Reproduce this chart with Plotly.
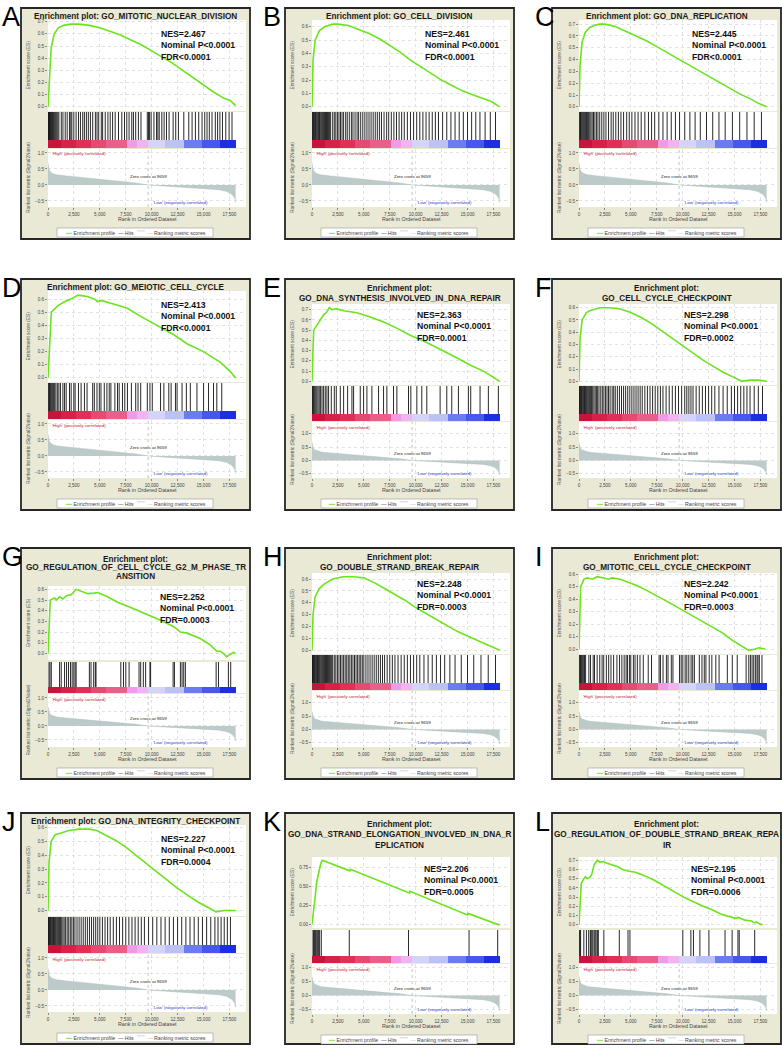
import plotly.graph_objects as go

FIG_W, FIG_H = 782, 1048
N_GENES = 18100
ZERO_CROSS = 9659
X_MAX = 19100

# ---------------- shared ranked list metric ----------------
metric_rank = [0, 30, 100, 250, 500, 800, 1200, 1800, 2500, 3500, 5000, 6500, 7500, 8500, 9659,
               11000, 12500, 14000, 15500, 16500, 17200, 17600, 17900, 18050, 18100]
metric_value = [0.68, 0.58, 0.48, 0.40, 0.35, 0.32, 0.30, 0.28, 0.26, 0.23, 0.18, 0.13, 0.10, 0.06, 0.0,
                -0.03, -0.05, -0.08, -0.11, -0.15, -0.20, -0.26, -0.35, -0.45, -0.55]

# ---------------- colour bar (high -> low) ----------------
bar_edges = [0, 1300, 2700, 4100, 5600, 7650, 8600, 9600, 11300, 13100, 14900, 16600, 18100]
bar_colors = ["#C8143C", "#D82048", "#E03058", "#E44A72", "#E8608A", "#EE9CE6",
              "#F2B4F0", "#D4D4F6", "#BCC2F4", "#6A7CF0", "#4658EC", "#1C2EE2"]

# ---------------- panel texts ----------------
letters = ["A", "B", "C", "D", "E", "F", "G", "H", "I", "J", "K", "L"]
titles = [
    ["Enrichment plot: GO_MITOTIC_NUCLEAR_DIVISION"],
    ["Enrichment plot: GO_CELL_DIVISION"],
    ["Enrichment plot: GO_DNA_REPLICATION"],
    ["Enrichment plot: GO_MEIOTIC_CELL_CYCLE"],
    ["Enrichment plot:", "GO_DNA_SYNTHESIS_INVOLVED_IN_DNA_REPAIR"],
    ["Enrichment plot:", "GO_CELL_CYCLE_CHECKPOINT"],
    ["Enrichment plot:", "GO_REGULATION_OF_CELL_CYCLE_G2_M_PHASE_TR", "ANSITION"],
    ["Enrichment plot:", "GO_DOUBLE_STRAND_BREAK_REPAIR"],
    ["Enrichment plot:", "GO_MITOTIC_CELL_CYCLE_CHECKPOINT"],
    ["Enrichment plot: GO_DNA_INTEGRITY_CHECKPOINT"],
    ["Enrichment plot:", "GO_DNA_STRAND_ELONGATION_INVOLVED_IN_DNA_R", "EPLICATION"],
    ["Enrichment plot:", "GO_REGULATION_OF_DOUBLE_STRAND_BREAK_REPA", "IR"],
]
nes_values = ["2.467", "2.461", "2.445", "2.413", "2.363", "2.298",
              "2.252", "2.248", "2.242", "2.227", "2.206", "2.195"]
nom_p = ["P<0.0001"] * 12
fdr_values = ["FDR<0.0001", "FDR<0.0001", "FDR<0.0001", "FDR<0.0001", "FDR=0.0001", "FDR=0.0002",
              "FDR=0.0003", "FDR=0.0003", "FDR=0.0003", "FDR=0.0004", "FDR=0.0005", "FDR=0.0006"]

# ---------------- running enrichment scores ----------------
es_x_A = [0, 150, 300, 600, 1000, 1500, 2200, 3000, 4000, 5000, 6000, 7000, 8000, 9000, 10000,
          11000, 12000, 13000, 14000, 15000, 16000, 17000, 17600, 18100]
es_y_A = [0, 0.30, 0.48, 0.60, 0.65, 0.67, 0.68, 0.68, 0.67, 0.65, 0.62, 0.59, 0.55, 0.51, 0.46,
          0.41, 0.36, 0.30, 0.24, 0.18, 0.12, 0.07, 0.05, 0.01]
es_x_B = [0, 100, 300, 700, 1200, 2000, 2500, 3500, 4500, 5500, 6500, 7500, 8500, 9500, 10500,
          11500, 12500, 13500, 14500, 15500, 16500, 17300, 18100]
es_y_B = [0, 0.35, 0.50, 0.57, 0.60, 0.62, 0.62, 0.61, 0.58, 0.55, 0.51, 0.46, 0.41, 0.35, 0.30,
          0.25, 0.20, 0.16, 0.12, 0.09, 0.06, 0.04, 0.0]
es_x_C = [0, 100, 300, 600, 1000, 1500, 2000, 2500, 3500, 4500, 5500, 6500, 7500, 8500, 9500,
          10500, 11500, 12500, 13500, 14500, 15500, 16500, 17300, 18100]
es_y_C = [0, 0.35, 0.55, 0.63, 0.67, 0.69, 0.70, 0.70, 0.68, 0.64, 0.60, 0.56, 0.51, 0.46, 0.41,
          0.36, 0.31, 0.26, 0.21, 0.16, 0.11, 0.07, 0.03, 0.0]
es_x_D = [0, 320, 960, 1600, 2200, 2900, 3800, 4500, 4800, 5100, 6400, 7660, 8900, 10500, 12100,
          13400, 15000, 16600, 17560, 18100]
es_y_D = [0, 0.50, 0.55, 0.58, 0.60, 0.63, 0.62, 0.60, 0.58, 0.59, 0.56, 0.53, 0.47, 0.40, 0.33,
          0.26, 0.20, 0.12, 0.05, 0.0]
es_x_E = [0, 160, 480, 800, 1120, 1440, 1670, 1920, 2340, 3050, 4330, 5620, 6900, 8180, 9470,
          11070, 12680, 13960, 15250, 16530, 17170, 17810, 18100]
es_y_E = [0, 0.50, 0.55, 0.60, 0.65, 0.68, 0.72, 0.70, 0.71, 0.69, 0.67, 0.63, 0.58, 0.52, 0.45,
          0.38, 0.30, 0.23, 0.16, 0.10, 0.06, 0.02, 0.0]
es_x_F = [0, 100, 300, 700, 1200, 2000, 3000, 4000, 5000, 6000, 7000, 8000, 9000, 10000, 11000,
          12000, 13000, 14000, 15000, 15700, 16500, 17300, 18100]
es_y_F = [0, 0.35, 0.50, 0.56, 0.58, 0.60, 0.60, 0.59, 0.56, 0.52, 0.47, 0.41, 0.35, 0.29, 0.23,
          0.17, 0.12, 0.07, 0.03, 0.0, 0.01, 0.01, 0.0]
es_x_G = [0, 220, 640, 800, 1120, 1440, 1760, 2230, 2710, 3350, 3830, 4470, 4790, 5750, 6700, 7980,
          9260, 10860, 12130, 12770, 13410, 14690, 15650, 16280, 16600, 16920, 17240, 17560, 17880, 18070]
es_y_G = [0, 0.50, 0.52, 0.50, 0.53, 0.51, 0.54, 0.55, 0.60, 0.58, 0.56, 0.565, 0.57, 0.53, 0.48, 0.43,
          0.38, 0.31, 0.25, 0.20, 0.19, 0.14, 0.08, 0.02, 0.02, 0.0, -0.03, -0.01, 0.01, 0.0]
es_x_H = [0, 100, 300, 700, 1200, 2000, 3000, 4000, 5000, 6000, 7000, 8000, 9000, 10000, 11000,
          12000, 13000, 14000, 15000, 16000, 17000, 17600, 18100]
es_y_H = [0, 0.30, 0.45, 0.52, 0.56, 0.60, 0.62, 0.62, 0.61, 0.57, 0.52, 0.47, 0.42, 0.36, 0.31,
          0.26, 0.21, 0.16, 0.12, 0.08, 0.04, 0.02, 0.0]
es_x_I = [0, 160, 480, 800, 1270, 1750, 2380, 2860, 3180, 3970, 4930, 5570, 6520, 7470, 8750, 10020,
          11290, 12560, 13840, 14790, 15740, 16380, 17020, 17340, 17970]
es_y_I = [0, 0.50, 0.56, 0.57, 0.56, 0.58, 0.57, 0.56, 0.57, 0.56, 0.53, 0.51, 0.47, 0.43, 0.37, 0.31,
          0.25, 0.19, 0.13, 0.07, 0.02, -0.01, 0.0, 0.01, 0.0]
es_x_J = [0, 100, 300, 700, 1200, 2000, 3000, 4000, 4700, 5500, 6500, 7500, 8500, 9500, 10500,
          11500, 12500, 13500, 14500, 15500, 16200, 17000, 17600, 18100]
es_y_J = [0, 0.35, 0.50, 0.55, 0.56, 0.58, 0.59, 0.59, 0.58, 0.55, 0.51, 0.46, 0.40, 0.34, 0.28,
          0.22, 0.16, 0.11, 0.06, 0.02, -0.01, 0.0, 0.0, 0.0]
es_x_K = [0, 150, 300, 450, 550, 650, 750, 850, 1000, 3650, 3700, 9400, 9450, 15000, 15050, 18000, 18100]
es_y_K = [0, 0.15, 0.35, 0.55, 0.62, 0.70, 0.76, 0.80, 0.84, 0.70, 0.72, 0.41, 0.43, 0.12, 0.14, -0.01, 0.0]
es_x_L = [0, 90, 220, 470, 620, 780, 1090, 1240, 1340, 1460, 1590, 1770, 2020, 2330, 2640, 3260, 3730,
          4200, 4820, 5440, 6370, 7310, 8240, 9170, 10100, 11040, 11970, 12900, 13830, 14460, 15080,
          15390, 16010, 16640, 16950, 17100, 17410, 17720]
es_y_L = [0, 0.25, 0.45, 0.50, 0.52, 0.50, 0.52, 0.55, 0.60, 0.65, 0.67, 0.70, 0.68, 0.685, 0.67, 0.65,
          0.63, 0.60, 0.58, 0.57, 0.53, 0.48, 0.42, 0.36, 0.30, 0.25, 0.20, 0.16, 0.11, 0.09, 0.07,
          0.08, 0.05, 0.04, 0.02, 0.03, 0.01, 0.0]

# ---------------- gene set hits (rank positions) ----------------
hits_A = [20, 60, 100, 150, 200, 260, 320, 380, 450, 520, 600, 680, 760, 850, 950, 1050, 1280, 1440,
          1660, 1850, 2070, 2200, 2300, 2490, 2710, 2940, 3130, 3350, 3510, 3700, 3890, 4090, 4310,
          4570, 4730, 4890, 5140, 5270, 5520, 5780, 6000, 6230, 6480, 6800, 7120, 7380, 7600, 7820,
          8080, 8240, 8460, 8720, 8970, 9580, 9700, 9800, 9950, 10220, 10470, 10600, 10730, 10980,
          11200, 11430, 11680, 12070, 12320, 12580, 13100, 13580, 13900, 14220, 14540, 14860, 15120,
          15340, 15560, 15820, 16140, 16360, 16580, 16830, 17150, 17470, 17750]
hits_B = [20, 70, 130, 190, 260, 330, 400, 480, 560, 640, 720, 800, 900, 1000, 1100, 1200, 1300,
          1400, 1500, 1600, 1700, 1800, 2000, 2150, 2300, 2450, 2600, 2750, 2900, 3050, 3250, 3400,
          3600, 3800, 3950, 4150, 4350, 4500, 4700, 4900, 5100, 5300, 5500, 5700, 5900, 6100, 6300,
          6500, 6700, 6950, 7200, 7400, 7650, 7900, 8150, 8400, 8650, 8900, 9200, 9500, 9800, 10100,
          10400, 10700, 11000, 11300, 11600, 11900, 12200, 12600, 13000, 13400, 13800, 14200, 14600,
          15000, 15400, 15800, 16200, 16700, 17200, 17700]
hits_C = [20, 80, 150, 220, 300, 380, 460, 550, 640, 730, 830, 930, 1040, 1150, 1270, 1400, 1530,
          1680, 1830, 2000, 2200, 2400, 2600, 2850, 3100, 3300, 3550, 3800, 4050, 4300, 4600, 4850,
          5100, 5400, 5700, 6000, 6350, 6700, 7000, 7300, 7700, 8100, 8500, 8900, 9300, 9700, 10200,
          10700, 11200, 11700, 12300, 12900, 13500, 14100, 14800, 15500, 16200, 16900, 17600]
hits_D = [20, 80, 150, 230, 320, 420, 520, 640, 760, 900, 1050, 1200, 1437, 1597, 1756, 2075, 2235,
          2490, 2618, 2938, 3193, 3512, 3768, 4311, 4470, 4726, 4949, 5109, 5428, 5684, 5907, 6067,
          6450, 6705, 6865, 7184, 7408, 7663, 8046, 8461, 8685, 8940, 9579, 9834, 10058, 10856, 11176,
          11654, 11878, 12293, 12453, 12932, 13347, 13730, 14369, 15008, 15486, 15965, 16284, 16763]
hits_E = [20, 70, 130, 200, 280, 370, 470, 580, 700, 830, 970, 1120, 1280, 1440, 1600, 1862, 2151,
          2343, 2729, 3050, 3435, 3852, 4013, 4655, 4976, 5297, 5778, 6420, 6902, 7223, 7865, 8186,
          9309, 9534, 10112, 10593, 11075, 12359, 13001, 13482, 14124, 15087, 15312, 16211, 17013, 17976]
hits_F = [20, 60, 110, 170, 230, 300, 370, 450, 530, 620, 710, 800, 900, 1000, 1100, 1200, 1320, 1440,
          1560, 1680, 1800, 1930, 2100, 2250, 2400, 2550, 2700, 2850, 3000, 3200, 3350, 3500, 3700,
          3900, 4100, 4300, 4500, 4700, 4900, 5100, 5300, 5500, 5700, 5900, 6100, 6350, 6600, 6850,
          7100, 7350, 7600, 7850, 8100, 8400, 8700, 9000, 9300, 9600, 9900, 10200, 10400, 10600,
          10800, 11000, 11300, 11600, 11900, 12200, 12500, 12800, 13100, 13500, 13900, 14300, 14700,
          15000, 15300, 15600, 15900, 16200, 16500, 16900, 17300, 17700]
hits_G = [96, 192, 319, 1118, 1277, 1597, 1788, 1980, 2171, 2331, 2491, 2618, 2714, 3991, 4151, 4406,
          4566, 4630, 7025, 7280, 7504, 7823, 8781, 8940, 9196, 9419, 9834, 9898, 12070, 12197, 12772,
          12932, 13092, 13251, 16220, 16444, 17402, 17625]
hits_H = [20, 60, 110, 170, 230, 300, 370, 450, 530, 620, 710, 800, 900, 1000, 1100, 1200, 1300, 1400,
          1500, 1600, 1700, 1800, 1900, 2000, 2150, 2300, 2450, 2600, 2750, 2900, 3050, 3200, 3350,
          3500, 3650, 3800, 3950, 4100, 4250, 4400, 4550, 4700, 4850, 5000, 5200, 5400, 5600, 5800,
          6000, 6200, 6400, 6600, 6800, 7000, 7250, 7500, 7750, 8000, 8300, 8600, 8900, 9200, 9500,
          9800, 10100, 10400, 10800, 11200, 11600, 12000, 12400, 12800, 13300, 13800, 14400, 15000,
          15600, 16300, 17000, 17700]
hits_I = [20, 80, 150, 230, 320, 420, 530, 640, 954, 1113, 1367, 1495, 1749, 2003, 2226, 2385, 2639,
          2862, 3085, 3339, 3657, 3911, 4134, 4357, 4547, 4675, 4865, 4993, 5247, 5406, 5629, 5883,
          6201, 6678, 6996, 7727, 7855, 8109, 8427, 8586, 8904, 9063, 9699, 9858, 10017, 10240, 10399,
          10589, 10812, 10971, 11130, 11607, 11861, 12084, 12243, 12561, 12815, 13197, 13515, 14310,
          14787, 15264, 16123, 16377, 16536, 16695, 16854, 17013, 17172, 17267, 17395, 17649]
hits_J = [20, 60, 110, 170, 230, 300, 370, 450, 530, 620, 710, 800, 900, 1000, 1100, 1200, 1320, 1440,
          1560, 1700, 1850, 2000, 2150, 2300, 2450, 2600, 2800, 3000, 3200, 3400, 3600, 3800, 4000,
          4200, 4400, 4600, 4800, 5000, 5250, 5500, 5750, 6000, 6300, 6600, 6900, 7200, 7500, 7800,
          8100, 8400, 8700, 9000, 9300, 9700, 10100, 10500, 10900, 11300, 11700, 12100, 12500, 12900,
          13300, 13700, 14100, 14500, 14900, 15300, 15700, 16100, 16400, 16700, 17000, 17300, 17600]
hits_K = [96, 160, 257, 321, 417, 546, 642, 738, 899, 3595, 9309, 15151, 17912]
hits_L = [31, 93, 156, 467, 715, 933, 1089, 1151, 1244, 1337, 1462, 1555, 1648, 1773, 1866, 2395,
          3888, 4727, 4914, 10014, 10792, 11040, 11662, 12533, 14088, 14772, 15332, 15456, 16949]

es_x_all = [es_x_A, es_x_B, es_x_C, es_x_D, es_x_E, es_x_F, es_x_G, es_x_H, es_x_I, es_x_J, es_x_K, es_x_L]
es_y_all = [es_y_A, es_y_B, es_y_C, es_y_D, es_y_E, es_y_F, es_y_G, es_y_H, es_y_I, es_y_J, es_y_K, es_y_L]
hits_all = [hits_A, hits_B, hits_C, hits_D, hits_E, hits_F, hits_G, hits_H, hits_I, hits_J, hits_K, hits_L]

# ---------------- layout geometry (pixels) ----------------
COL_LEFT = [21, 285, 552]
LETTER_X = [0, 261, 533]
ROW_TOP = [8, 279, 548, 813]
BOX_W, BOX_H = 229, 231
PLOT_L, PLOT_R = 27, 225
TEMPLATES = {
    "T1": dict(title=[8], es=(12, 103), hits=(104, 132), bar=(132, 140), rank=(141, 199),
               rank_range=[-0.69, 1.125], nes=(138, 19)),
    "T2": dict(title=[9, 19], es=(25, 106), hits=(107, 135), bar=(135, 142), rank=(143, 199),
               rank_range=[-0.66, 1.44], nes=(130, 29)),
    "T3": dict(title=[11, 19.5, 28], es=(38, 112), hits=(114, 139), bar=(139, 145), rank=(146, 199),
               rank_range=[-0.75, 1.14], nes=(137, 42)),
    "T4": dict(title=[11, 21, 32], es=(44, 115), hits=(117, 143), bar=(143, 150), rank=(151, 201),
               rank_range=[-0.66, 1.125], nes=(137, 49)),
}
panel_tmpl = ["T1", "T1", "T1", "T1", "T2", "T2", "T3", "T2", "T2", "T1", "T4", "T4"]

FONT = "Liberation Sans, Arial, sans-serif"
GREEN = "#6BE41C"
GRID = "#E2E2E2"


def px_x(p):
    return p / FIG_W


def px_y(p):
    return 1 - p / FIG_H


def nm(k):
    return "" if k == 1 else str(k)


def note(x, y, text, size, color="#222", xa="center", ya="middle", **kw):
    d = dict(xref="paper", yref="paper", x=x, y=y, text=text, showarrow=False,
             xanchor=xa, yanchor=ya, font=dict(size=size, color=color, family=FONT))
    d.update(kw)
    return d


fig = go.Figure()
axes = {}
shapes = []
annotations = []

for i in range(12):
    col, row = i % 3, i // 3
    bx, by = COL_LEFT[col], ROW_TOP[row]
    t = TEMPLATES[panel_tmpl[i]]
    pl, pr = bx + PLOT_L, bx + PLOT_R

    # panel box
    shapes.append(dict(type="rect", xref="paper", yref="paper", layer="below",
                       x0=px_x(bx), x1=px_x(bx + BOX_W), y0=px_y(by + BOX_H), y1=px_y(by),
                       fillcolor="#EAE9D6", line=dict(color="#262626", width=1.8)))
    # white plotting areas
    for top, bot in [t["es"], (t["hits"][0], t["bar"][1]), t["rank"]]:
        shapes.append(dict(type="rect", xref="paper", yref="paper", layer="below",
                           x0=px_x(pl), x1=px_x(pr), y0=px_y(by + bot), y1=px_y(by + top),
                           fillcolor="white", line=dict(width=0)))

    ia, ib, ic = 3 * i + 1, 3 * i + 2, 3 * i + 3
    xdom = [px_x(pl), px_x(pr)]

    # ---- ES panel ----
    ys = es_y_all[i]
    lo, hi = min(ys), max(ys)
    pad = 0.05 * (hi - lo)
    is_k = letters[i] == "K"
    axes["xaxis" + nm(ia)] = dict(domain=xdom, range=[0, X_MAX], anchor="y" + nm(ia),
                                  showticklabels=False, showgrid=True, gridcolor=GRID, griddash="dot",
                                  gridwidth=0.6, dtick=2500, tick0=0, zeroline=False, showline=False, ticks="")
    axes["yaxis" + nm(ia)] = dict(domain=[px_y(by + t["es"][1]), px_y(by + t["es"][0])],
                                  range=[lo - pad, hi + pad], anchor="x" + nm(ia),
                                  dtick=0.25 if is_k else 0.1, tick0=0,
                                  tickformat=".2f" if is_k else ".1f",
                                  tickfont=dict(size=4.6, color="#444", family=FONT),
                                  ticks="outside", ticklen=2, tickcolor="#888", tickwidth=0.6,
                                  showgrid=True, gridcolor=GRID, griddash="dot", gridwidth=0.6,
                                  zeroline=False, showline=False)
    fig.add_trace(go.Scatter(x=es_x_all[i], y=ys, mode="lines", line=dict(color=GREEN, width=1.6),
                             xaxis="x" + nm(ia), yaxis="y" + nm(ia), hoverinfo="skip"))

    # ---- hits + colour bar ----
    h_top, b_bot = t["hits"][0], t["bar"][1]
    bar_frac = (t["bar"][1] - t["bar"][0]) / (b_bot - h_top)
    axes["xaxis" + nm(ib)] = dict(domain=xdom, range=[0, X_MAX], anchor="y" + nm(ib),
                                  showticklabels=False, showgrid=False, zeroline=False, ticks="")
    axes["yaxis" + nm(ib)] = dict(domain=[px_y(by + b_bot), px_y(by + h_top)], range=[0, 1],
                                  anchor="x" + nm(ib), showticklabels=False, showgrid=False,
                                  zeroline=False, ticks="")
    nb = len(bar_colors)
    fig.add_trace(go.Heatmap(z=[list(range(nb))], x=bar_edges, y=[0, bar_frac],
                             colorscale=[[k / (nb - 1), c] for k, c in enumerate(bar_colors)],
                             zmin=0, zmax=nb - 1, showscale=False, hoverinfo="skip",
                             xaxis="x" + nm(ib), yaxis="y" + nm(ib)))
    hx, hy = [], []
    for h in hits_all[i]:
        hx += [h, h, None]
        hy += [bar_frac, 1, None]
    fig.add_trace(go.Scatter(x=hx, y=hy, mode="lines", line=dict(color="#111", width=0.9),
                             xaxis="x" + nm(ib), yaxis="y" + nm(ib), hoverinfo="skip"))

    # ---- ranked list metric ----
    r_top, r_bot = t["rank"]
    axes["xaxis" + nm(ic)] = dict(domain=xdom, range=[0, X_MAX], anchor="y" + nm(ic),
                                  dtick=2500, tick0=0, tickformat=",d",
                                  tickfont=dict(size=4.6, color="#444", family=FONT),
                                  ticks="outside", ticklen=2, tickcolor="#888", tickwidth=0.6,
                                  showgrid=True, gridcolor=GRID, griddash="dot", gridwidth=0.6,
                                  zeroline=False, showline=False)
    axes["yaxis" + nm(ic)] = dict(domain=[px_y(by + r_bot), px_y(by + r_top)], range=t["rank_range"],
                                  anchor="x" + nm(ic), tickvals=[-0.5, 0.0, 0.5, 1.0],
                                  tickformat=".1f", tickfont=dict(size=4.6, color="#444", family=FONT),
                                  ticks="outside", ticklen=2, tickcolor="#888", tickwidth=0.6,
                                  showgrid=True, gridcolor=GRID, griddash="dot", gridwidth=0.6,
                                  zeroline=False, showline=False)
    fig.add_trace(go.Scatter(x=metric_rank, y=metric_value, mode="lines", fill="tozeroy",
                             fillcolor="#BDCACA", line=dict(color="#AFBEBE", width=0.5),
                             xaxis="x" + nm(ic), yaxis="y" + nm(ic), hoverinfo="skip"))
    shapes.append(dict(type="line", xref="x" + nm(ic), yref="paper", x0=ZERO_CROSS, x1=ZERO_CROSS,
                       y0=px_y(by + r_bot), y1=px_y(by + r_top),
                       line=dict(color="#9A9A9A", width=0.6, dash="dot")))
    annotations.append(dict(xref="x" + nm(ic), yref="y" + nm(ic), x=ZERO_CROSS, y=0.26,
                            xanchor="center", yanchor="middle",
                            text="Zero cross at " + str(ZERO_CROSS), showarrow=False,
                            font=dict(size=4.4, color="#222", family=FONT)))
    annotations.append(note(px_x(pl + 2), px_y(by + r_top + 0.5), "'High' (positively correlated)",
                            4.4, "#C8102E", xa="left", ya="top"))
    annotations.append(dict(xref="x" + nm(ic), yref="paper", x=12800, y=px_y(by + r_bot - 0.5),
                            xanchor="center", yanchor="bottom", text="'Low' (negatively correlated)",
                            showarrow=False, font=dict(size=4.4, color="#1F3BCC", family=FONT)))

    # ---- axis titles ----
    es_mid = by + (t["es"][0] + t["es"][1]) / 2
    annotations.append(note(px_x(bx + 7), px_y(es_mid), "Enrichment score (ES)", 4.8, "#555",
                            textangle=-90))
    rk_mid = by + (r_top + r_bot) / 2
    annotations.append(note(px_x(bx + 7), px_y(rk_mid), "Ranked list metric (Signal2Noise)", 4.8, "#555",
                            textangle=-90))
    annotations.append(note(px_x((pl + pr) / 2), px_y(by + r_bot + 12), "Rank in Ordered Dataset",
                            5.3, "#444"))

    # ---- legend ----
    lg_top, lg_bot = by + r_bot + 21, by + r_bot + 30
    shapes.append(dict(type="rect", xref="paper", yref="paper",
                       x0=px_x(bx + 36), x1=px_x(bx + 192), y0=px_y(lg_bot), y1=px_y(lg_top),
                       fillcolor="white", line=dict(color="#999", width=0.6)))
    annotations.append(note(px_x(bx + 114), px_y((lg_top + lg_bot) / 2),
                            ("<span style='color:%s'>━━</span> Enrichment profile  "
                             "<span style='color:#333'>—</span> Hits  "
                             "<span style='color:#ccc'>▔▔</span>  "
                             "<span style='color:#bbb'>—</span> Ranking metric scores") % GREEN,
                            5.2, "#444"))

    # ---- titles, letters, statistics ----
    for k, line in enumerate(titles[i]):
        annotations.append(note(px_x(bx + BOX_W / 2), px_y(by + t["title"][k]), "<b>%s</b>" % line,
                                8.2, "#1a1a1a"))
    annotations.append(note(px_x(LETTER_X[col]), px_y(by - 8), letters[i], 27, "black",
                            xa="left", ya="top"))
    annotations.append(note(px_x(bx + t["nes"][0]), px_y(by + t["nes"][1]),
                            "<b>NES=%s<br>Nominal %s<br>%s</b>" % (nes_values[i], nom_p[i], fdr_values[i]),
                            8.7, "#111", xa="left", ya="top", align="left"))

fig.update_layout(width=FIG_W, height=FIG_H, margin=dict(l=0, r=0, t=0, b=0), autosize=False,
                  paper_bgcolor="#ffffff", plot_bgcolor="rgba(0,0,0,0)", showlegend=False,
                  shapes=shapes, annotations=annotations, **axes)

fig.write_html("out.html", config={"displayModeBar": False},
               post_script="document.body.style.margin='0';document.body.style.padding='0';")
